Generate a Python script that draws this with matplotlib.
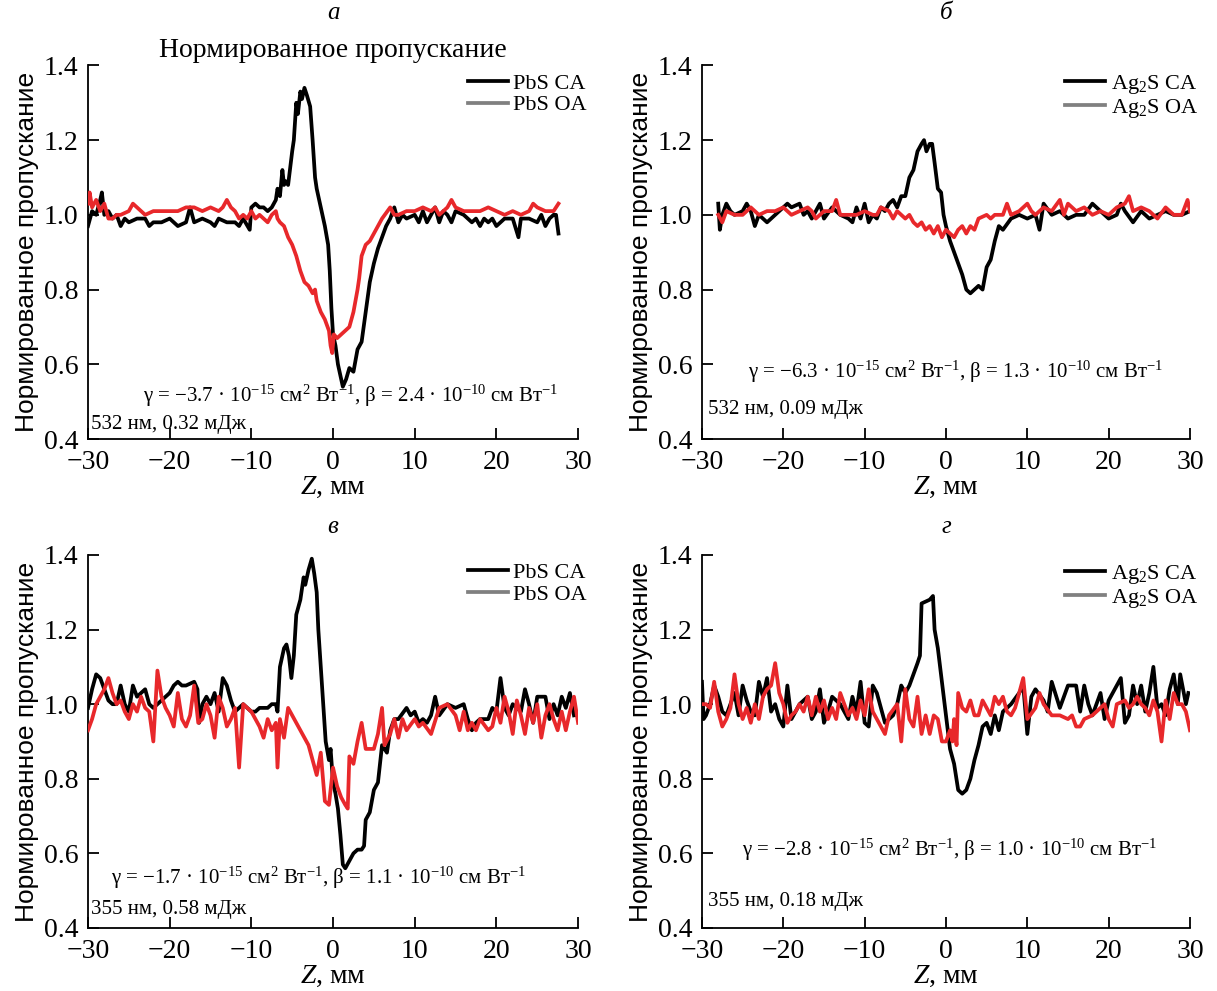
import matplotlib
matplotlib.use("Agg")
import matplotlib.pyplot as plt

plt.rcParams['font.family'] = ['Liberation Serif', 'DejaVu Serif']
plt.rcParams['mathtext.fontset'] = 'custom'
plt.rcParams['mathtext.rm'] = 'Liberation Serif'
plt.rcParams['mathtext.it'] = 'Liberation Serif:italic'
plt.rcParams['axes.unicode_minus'] = True

# --- panel a: PbS, 532 nm ---
a_ca_z = [-30, -29.5, -29, -28.5, -28.3, -28, -27.5, -27, -26.5, -26, -25.5, -25, -24, -23, -22.5, -22, -21, -20,
          -19, -18, -17.5, -17, -16, -15, -14.5, -14, -13, -12, -11.5, -11, -10.2, -10, -9.5, -9, -8.5, -8, -7.5,
          -7, -6.8, -6.5, -6.2, -6, -5.8, -5.5, -5, -4.8, -4.5, -4.3, -4, -3.8, -3.5, -3.2, -2.8, -2.5, -2.2, -2,
          -1.5, -1, -0.6, -0.4, -0.2, 0, 0.3, 0.6, 1.0, 1.2, 1.6, 2.0, 2.5, 3, 3.5, 4, 4.5, 5, 5.5, 6, 6.5, 7,
          7.5, 8, 8.5, 9, 10, 10.5, 11, 11.5, 12, 12.5, 13, 13.5, 14, 14.5, 15, 16, 17, 17.5, 18, 18.5, 19, 19.5,
          20, 21, 22, 22.7, 23, 24, 25, 25.5, 26, 26.5, 27, 27.3, 27.6]
a_ca_t = [0.97, 1.01, 1.00, 1.04, 1.06, 1.00, 1.01, 0.99, 1.00, 0.97, 0.99, 0.98, 0.99, 0.99, 0.97, 0.98, 0.98, 0.99,
          0.97, 0.98, 1.02, 0.98, 0.99, 0.98, 0.97, 0.99, 0.98, 0.98, 0.97, 0.99, 0.96, 1.02, 1.03, 1.02, 1.02, 1.01, 1.02,
          1.04, 1.07, 1.05, 1.12, 1.08, 1.09, 1.08, 1.17, 1.20, 1.30, 1.27, 1.33, 1.31, 1.34, 1.32, 1.29, 1.20, 1.10, 1.07,
          1.02, 0.97, 0.92, 0.85, 0.75, 0.68, 0.65, 0.60, 0.56, 0.54, 0.56, 0.59, 0.58, 0.64, 0.66, 0.74, 0.82, 0.87, 0.91,
          0.94, 0.97, 0.99, 1.02, 0.98, 1.00, 0.99, 1.00, 0.98, 1.01, 0.98, 1.00, 1.02, 0.98, 1.01, 1.00, 0.98, 1.01, 1.00,
          0.98, 0.99, 0.97, 0.99, 0.98, 0.99, 0.97, 0.99, 0.99, 0.94, 0.99, 0.99, 0.98, 1.00, 0.97, 0.99, 1.00, 1.00, 0.95]
a_oa_z = [-30, -29.8, -29.5, -29, -28.5, -28, -27.5, -27, -26.5, -26, -25, -24.5, -24, -23.5, -23, -22, -21, -20, -19,
          -18, -17, -16, -15, -14, -13.5, -13, -12.5, -12, -11.5, -11, -10.5, -10, -9.5, -9, -8.5, -8, -7.5, -7,
          -6.8, -6.5, -6, -5.5, -5, -4.5, -4, -3.5, -3, -2.5, -2.2, -2, -1.5, -1, -0.5, -0.3, -0.1, 0.1, 0.5, 1, 1.5,
          2, 2.5, 3, 3.2, 3.5, 4, 4.5, 5, 5.5, 6, 7, 7.5, 8, 9, 10, 11, 12, 12.5, 13, 14, 14.5, 15, 16, 17, 18, 19,
          20, 21, 22, 23, 24, 24.5, 25, 26, 27, 27.6]
a_oa_t = [1.03, 1.06, 1.02, 1.04, 1.01, 1.03, 0.99, 0.99, 1.00, 1.00, 1.01, 1.03, 1.02, 1.01, 1.00, 1.01, 1.01, 1.01,
          1.01, 1.02, 1.02, 1.01, 1.02, 1.01, 1.02, 1.04, 1.02, 1.01, 0.99, 1.00, 0.99, 1.01, 0.99, 1.00, 0.99, 0.98,
          1.00, 1.01, 0.99, 0.98, 0.97, 0.94, 0.92, 0.89, 0.85, 0.82, 0.81, 0.79, 0.80, 0.77, 0.74, 0.72, 0.69, 0.65,
          0.63, 0.68, 0.67, 0.68, 0.69, 0.70, 0.74, 0.80, 0.83, 0.89, 0.92, 0.93, 0.95, 0.97, 0.99, 1.02, 1.00, 1.00,
          1.01, 1.01, 1.02, 1.01, 1.02, 1.00, 1.02, 1.04, 1.02, 1.01, 1.01, 1.01, 1.02, 1.01, 1.00, 1.01, 1.00, 1.01,
          1.03, 1.02, 1.01, 1.01, 1.03]

# --- panel b: Ag2S, 532 nm ---
b_ca_z = [-28, -27.8, -27.5, -27, -26.5, -26, -25, -24.5, -24, -23.5, -23, -22.5, -22, -21, -20, -19.5, -19, -18,
          -17.5, -17, -16.5, -16, -15.5, -15, -14, -13.5, -13, -12, -11.5, -11, -10.5, -10, -9.5, -9, -8.5, -8,
          -7.5, -7, -6.5, -6, -5.5, -5, -4.5, -4, -3.5, -3, -2.7, -2.4, -2, -1.7, -1.4, -1, -0.6, -0.3, 0, 0.5, 1,
          1.5, 2, 2.5, 3, 3.5, 4, 4.5, 5, 5.5, 6, 6.5, 7, 8, 9, 10, 11, 11.5, 12, 13, 14, 15, 16, 17, 18, 19, 20,
          21, 21.5, 22, 23, 24, 25, 26, 27, 28, 29, 30]
b_ca_t = [1.03, 0.96, 1.00, 1.03, 1.01, 1.00, 1.01, 1.03, 1.01, 0.97, 1.00, 0.99, 0.98, 1.00, 1.02, 1.03, 1.02, 1.03,
          1.00, 1.01, 0.99, 1.01, 1.03, 0.99, 1.02, 1.01, 1.00, 0.99, 0.98, 1.02, 0.99, 1.03, 0.98, 1.00, 0.99, 1.02,
          1.01, 1.03, 1.04, 1.02, 1.05, 1.05, 1.10, 1.12, 1.17, 1.19, 1.20, 1.17, 1.19, 1.19, 1.14, 1.07, 1.06, 1.00,
          0.97, 0.93, 0.90, 0.87, 0.84, 0.80, 0.79, 0.80, 0.81, 0.80, 0.86, 0.88, 0.93, 0.97, 0.96, 0.99, 1.00, 0.99,
          1.00, 0.96, 1.03, 1.00, 1.01, 0.99, 1.00, 1.00, 1.03, 1.01, 0.99, 1.00, 1.03, 1.01, 0.98, 1.01, 0.99, 1.00,
          1.01, 1.00, 1.00, 1.01]
b_oa_z = [-28, -27.5, -27, -26, -25, -24, -23, -22, -21, -20, -19, -18, -17, -16.5, -16, -15, -14, -13.5, -13, -12,
          -11, -10, -9, -8.5, -8, -7, -6.5, -6, -5, -4.5, -4, -3.5, -3, -2.5, -2, -1.5, -1, -0.5, 0, 0.5, 1, 1.5, 2,
          2.5, 3, 3.5, 4, 5, 5.5, 6, 7, 7.5, 8, 9, 10, 10.5, 11, 12, 13, 14, 14.5, 15, 16, 17, 18, 19, 20, 21, 22,
          22.5, 23, 24, 25, 26, 27, 28, 29, 29.7, 30]
b_oa_t = [1.00, 0.98, 1.01, 1.00, 1.00, 1.02, 1.00, 1.01, 1.01, 1.02, 1.00, 1.01, 1.02, 1.01, 0.99, 1.01, 1.01, 1.04,
          1.00, 1.00, 1.00, 1.01, 1.00, 1.00, 1.02, 1.01, 0.99, 1.01, 0.99, 1.00, 0.98, 0.97, 0.98, 0.96, 0.97, 0.95,
          0.97, 0.94, 0.96, 0.95, 0.94, 0.96, 0.97, 0.95, 0.97, 0.96, 0.99, 1.00, 0.99, 1.00, 1.00, 1.03, 1.00, 1.01,
          1.03, 1.01, 1.00, 1.02, 1.01, 1.04, 1.00, 1.03, 1.01, 1.02, 1.00, 1.01, 1.00, 1.02, 1.03, 1.05, 1.01, 1.02,
          1.01, 0.99, 1.02, 1.00, 1.00, 1.04, 1.01]

# --- panel c: PbS, 355 nm ---
c_ca_z = [-30, -29.5, -29, -28.5, -28, -27.5, -27, -26.5, -26, -25.5, -25, -24.5, -24, -23.5, -23, -22.5, -22, -21.5,
          -21, -20, -19.5, -19, -18.5, -18, -17, -16.6, -16.4, -16, -15.5, -15, -14.5, -14, -13.5, -13, -12.5, -12,
          -11.5, -11, -10, -9.5, -9, -8, -7.5, -7, -6.8, -6.5, -6, -5.7, -5.4, -5.1, -4.8, -4.5, -4, -3.6, -3.4, -3,
          -2.6, -2.3, -2, -1.8, -1.5, -1.2, -0.9, -0.5, -0.3, 0, 0.3, 0.6, 0.9, 1.2, 1.5, 2, 2.5, 3, 3.5, 3.8, 4,
          4.5, 5, 5.5, 6, 6.3, 6.6, 7, 7.5, 8, 9, 9.5, 10, 10.5, 11, 11.5, 12, 12.5, 13, 14, 15, 16, 16.5, 17, 17.5,
          18, 19, 19.5, 20, 20.5, 21, 21.5, 22, 23, 23.5, 24, 24.5, 25, 26, 26.5, 27, 27.5, 28, 28.5, 29, 29.5]
c_ca_t = [0.99, 1.04, 1.08, 1.07, 1.04, 1.01, 1.00, 1.00, 1.05, 1.00, 0.98, 1.05, 1.02, 1.03, 1.04, 1.00, 0.99, 1.00,
          1.01, 1.03, 1.05, 1.06, 1.05, 1.05, 1.06, 1.04, 0.95, 1.00, 1.02, 1.00, 1.03, 0.98, 1.07, 1.05, 1.01, 0.98,
          0.99, 1.00, 0.98, 0.98, 0.99, 0.99, 1.00, 1.00, 0.98, 1.10, 1.15, 1.16, 1.13, 1.07, 1.13, 1.24, 1.28, 1.34,
          1.32, 1.36, 1.39, 1.35, 1.30, 1.20, 1.10, 1.00, 0.90, 0.85, 0.88, 0.79, 0.76, 0.72, 0.65, 0.57, 0.56, 0.58,
          0.60, 0.61, 0.61, 0.62, 0.69, 0.71, 0.77, 0.79, 0.89, 0.88, 0.87, 0.93, 0.96, 0.96, 0.99, 0.97, 0.98, 0.95,
          0.96, 0.95, 0.97, 1.02, 0.97, 1.00, 0.99, 1.00, 0.96, 0.93, 0.95, 0.96, 0.96, 0.99, 0.98, 1.07, 0.99, 0.97,
          1.00, 0.98, 1.04, 1.00, 0.95, 1.02, 1.02, 0.96, 1.00, 0.97, 1.02, 0.99, 1.03, 0.97]
c_oa_z = [-30, -29.5, -29, -28, -27.5, -27, -26.5, -26, -25.5, -25, -24.5, -24, -23.5, -23, -22.5, -22, -21.5, -21,
          -20.5, -20, -19.5, -19, -18.5, -18, -17.5, -17, -16.5, -16, -15.5, -15, -14.5, -14, -13.5, -13, -12.5,
          -12, -11.5, -11, -10.5, -10, -9.5, -9, -8.5, -8, -7.5, -7, -6.8, -6.5, -6, -5.5, -5, -4, -3, -2.5, -2,
          -1.5, -1, -0.5, 0, 0.5, 1, 1.5, 1.8, 2, 2.5, 3, 3.5, 4, 5, 5.5, 6, 6.3, 7, 7.5, 8, 8.5, 9, 10, 10.5, 11,
          12, 13, 14, 15, 15.5, 16, 16.5, 17, 17.5, 18, 19, 19.5, 20, 20.5, 21, 21.5, 22, 22.5, 23, 23.5, 24, 24.5,
          25, 25.5, 26, 26.5, 27, 27.5, 28, 28.5, 29, 29.5, 30]
c_oa_t = [0.93, 0.96, 1.00, 1.04, 1.07, 1.03, 1.00, 1.01, 0.98, 0.96, 1.00, 0.98, 1.02, 0.99, 0.98, 0.90, 1.09, 1.02,
          0.99, 0.97, 0.94, 1.03, 0.96, 0.94, 0.97, 1.05, 0.95, 0.96, 1.00, 0.97, 0.91, 1.02, 0.99, 0.94, 0.96, 0.99,
          0.83, 1.00, 0.99, 0.98, 0.96, 0.94, 0.91, 0.96, 0.93, 0.95, 0.83, 0.96, 0.91, 0.99, 0.97, 0.93, 0.89, 0.85,
          0.81, 0.87, 0.74, 0.73, 0.83, 0.78, 0.75, 0.73, 0.72, 0.86, 0.84, 0.90, 0.95, 0.88, 0.88, 0.92, 0.99, 0.89,
          0.92, 0.96, 0.91, 0.96, 0.93, 0.96, 0.94, 0.95, 0.92, 0.99, 1.00, 0.97, 0.93, 0.98, 0.93, 0.95, 0.93, 0.96,
          0.93, 0.94, 0.99, 0.95, 1.02, 0.98, 0.92, 1.01, 0.97, 0.92, 0.99, 0.95, 1.00, 0.91, 0.97, 1.00, 0.96, 0.93,
          0.98, 0.93, 0.98, 1.02, 0.95]

# --- panel d: Ag2S, 355 nm ---
d_ca_z = [-30, -29.8, -29.5, -29, -28.5, -28, -27.5, -27, -26.5, -26, -25.5, -25, -24.5, -24, -23.5, -23, -22.5, -22,
          -21.5, -21, -20.5, -20, -19.5, -19, -18.5, -18, -17, -16.5, -16, -15.5, -15, -14.5, -14, -13, -12, -11.5,
          -11, -10.5, -10, -9.5, -9, -8.5, -8, -7.5, -7, -6.5, -6, -5.5, -5, -4.5, -4, -3.5, -3.2, -3, -2, -1.6,
          -1.4, -1, -0.5, 0, 0.5, 1, 1.5, 2, 2.5, 3, 3.5, 4, 4.5, 5, 5.5, 6, 6.5, 7, 8, 9, 9.5, 10, 10.5, 11, 12,
          12.5, 13, 14, 15, 16, 16.5, 17, 17.5, 18, 19, 19.5, 20, 21, 21.5, 22, 22.5, 23, 23.5, 24, 24.5, 25, 25.5,
          26, 26.5, 27, 27.5, 28, 28.5, 28.8, 29.5, 29.8]
d_ca_t = [1.06, 0.96, 0.97, 1.00, 1.05, 1.02, 0.98, 0.97, 1.00, 1.03, 0.97, 1.05, 1.01, 0.98, 0.97, 1.06, 1.02, 1.07,
          0.98, 1.00, 0.96, 0.94, 1.05, 0.96, 0.98, 1.00, 1.02, 0.96, 0.98, 1.04, 0.95, 0.98, 1.02, 1.00, 0.96, 1.02,
          0.98, 1.06, 0.95, 0.94, 1.05, 1.03, 0.99, 0.95, 0.96, 0.97, 1.00, 1.05, 1.03, 1.05, 1.08, 1.11, 1.13, 1.27,
          1.28, 1.29, 1.20, 1.15, 1.06, 0.97, 0.88, 0.84, 0.77, 0.76, 0.77, 0.80, 0.85, 0.89, 0.94, 0.95, 0.92, 0.97,
          0.93, 0.98, 1.00, 1.03, 1.05, 0.92, 1.02, 1.04, 1.01, 0.98, 1.06, 0.99, 1.05, 1.05, 0.98, 1.05, 1.00, 0.97,
          1.03, 0.96, 1.01, 1.05, 1.07, 0.95, 0.97, 1.05, 1.00, 1.05, 0.98, 1.03, 1.10, 0.99, 1.00, 0.97, 1.04, 1.08,
          1.00, 1.08, 1.00, 1.03]
d_oa_z = [-30, -29.5, -29, -28.5, -28, -27.5, -27, -26.5, -26, -25.5, -25, -24.5, -24, -23.5, -23, -22.5, -22, -21.5,
          -21, -20.5, -20, -19.5, -19, -18.5, -18, -17.5, -17, -16.5, -16, -15.5, -15, -14.5, -14, -13.5, -13, -12.5,
          -12, -11.5, -11, -10.5, -10, -9.5, -9, -8, -7.5, -7, -6, -5.5, -5, -4.5, -4, -3.5, -3, -2.5, -2, -1.5, -1,
          -0.5, 0, 0.5, 0.8, 1, 1.3, 1.5, 2, 2.5, 3, 3.5, 4, 4.5, 5, 5.5, 6, 6.5, 7, 7.5, 8, 8.5, 9, 9.5, 10, 11,
          11.5, 12, 13, 14, 15, 15.5, 16, 16.5, 17, 18, 19, 19.5, 20, 20.5, 21, 22, 22.5, 23, 23.5, 24, 24.5, 25,
          25.5, 26, 26.5, 27, 27.5, 28, 28.5, 29, 29.5, 30]
d_oa_t = [1.00, 1.00, 0.99, 1.06, 0.98, 0.94, 0.96, 0.99, 1.08, 1.00, 0.96, 0.99, 0.95, 1.00, 0.96, 1.02, 1.04, 1.05,
          1.11, 1.03, 1.00, 0.95, 0.97, 0.98, 1.00, 0.98, 1.02, 0.97, 1.02, 0.98, 1.01, 0.96, 0.99, 0.96, 1.03, 1.00,
          0.97, 0.99, 0.96, 1.01, 0.97, 1.04, 0.98, 0.94, 0.92, 0.97, 1.00, 0.90, 1.04, 0.96, 0.94, 1.02, 0.92, 0.97,
          0.92, 0.97, 0.96, 0.90, 0.90, 0.93, 0.90, 0.96, 0.89, 1.03, 0.99, 0.98, 1.01, 0.97, 0.97, 1.01, 0.99, 0.97,
          1.02, 1.00, 1.02, 0.98, 0.97, 0.99, 1.03, 1.07, 0.96, 0.99, 1.03, 1.00, 0.97, 0.97, 0.96, 0.97, 0.94, 0.94,
          0.96, 0.97, 0.99, 1.00, 0.96, 0.94, 1.00, 1.01, 0.99, 1.00, 1.02, 1.00, 0.99, 0.97, 1.01, 0.98, 0.90, 1.01,
          0.96, 1.03, 1.00, 1.00, 0.98, 0.93]

letters = ['а', 'б', 'в', 'г']
names = ['PbS', 'Ag$_2$S', 'PbS', 'Ag$_2$S']
params = [
    'γ = −3.7 · 10$^{-15}$ см$^2$ Вт$^{-1}$, β = 2.4 · 10$^{-10}$ см Вт$^{-1}$',
    'γ = −6.3 · 10$^{-15}$ см$^2$ Вт$^{-1}$, β = 1.3 · 10$^{-10}$ см Вт$^{-1}$',
    'γ = −1.7 · 10$^{-15}$ см$^2$ Вт$^{-1}$, β = 1.1 · 10$^{-10}$ см Вт$^{-1}$',
    'γ = −2.8 · 10$^{-15}$ см$^2$ Вт$^{-1}$, β = 1.0 · 10$^{-10}$ см Вт$^{-1}$',
]
conditions = ['532 нм, 0.32 мДж', '532 нм, 0.09 мДж', '355 нм, 0.58 мДж', '355 нм, 0.18 мДж']
param_pos = [(2.1, 0.515), (1.2, 0.58), (-1.7, 0.535), (0.5, 0.61)]
cond_pos = [(-29.6, 0.44), (-29.2, 0.48), (-29.6, 0.45), (-29.2, 0.47)]

curves = [
    (a_ca_z, a_ca_t, a_oa_z, a_oa_t),
    (b_ca_z, b_ca_t, b_oa_z, b_oa_t),
    (c_ca_z, c_ca_t, c_oa_z, c_oa_t),
    (d_ca_z, d_ca_t, d_oa_z, d_oa_t),
]

fig = plt.figure(figsize=(12.17, 9.91), dpi=100)
boxes = [
    [0.0723, 0.557, 0.4027, 0.377],
    [0.5768, 0.557, 0.4010, 0.377],
    [0.0723, 0.0636, 0.4027, 0.3764],
    [0.5768, 0.0636, 0.4010, 0.3764],
]

red = '#e8282b'
for i in range(4):
    ax = fig.add_axes(boxes[i])
    ca_z, ca_t, oa_z, oa_t = curves[i]
    ax.plot(ca_z, ca_t, color='black', lw=2.7, label=names[i] + ' CA', zorder=3)
    ax.plot(oa_z, oa_t, color=red, lw=2.7, zorder=4)
    # legend shows gray for OA (as in the original figure)
    ax.plot([], [], color='#808080', lw=2.7, label=names[i] + ' OA')
    ax.set_xlim(-30, 30)
    ax.set_ylim(0.4, 1.4)
    ax.set_xticks([-30, -20, -10, 0, 10, 20, 30])
    ax.set_yticks([0.4, 0.6, 0.8, 1.0, 1.2, 1.4])
    ax.set_yticklabels(['0.4', '0.6', '0.8', '1.0', '1.2', '1.4'])
    ax.spines['top'].set_visible(False)
    ax.spines['right'].set_visible(False)
    for s in ['left', 'bottom']:
        ax.spines[s].set_linewidth(1.3)
    ax.tick_params(direction='in', length=8, width=1.3, labelsize=20)
    ax.tick_params(axis='x', pad=8)
    ax.tick_params(axis='y', pad=7)
    ax.set_xlabel('$Z$, мм', fontsize=20, labelpad=0)
    ax.set_ylabel('Нормированное пропускание', fontsize=19, family=['Liberation Sans', 'DejaVu Sans'], labelpad=3)
    ax.legend(loc='upper right', bbox_to_anchor=(1.045, 1.015), frameon=False, fontsize=16,
              handlelength=1.8, handletextpad=0.25, labelspacing=0.05, borderaxespad=0.2)
    ax.text(param_pos[i][0], param_pos[i][1], params[i], ha='center', va='center', fontsize=15)
    ax.text(cond_pos[i][0], cond_pos[i][1], conditions[i], ha='left', va='center', fontsize=15)
    ax.text(0.5, 1.14 if i < 2 else 1.075, letters[i], transform=ax.transAxes, ha='center', va='center',
            fontsize=18, style='italic')
    if i == 0:
        ax.text(0.5, 1.04, 'Нормированное пропускание', transform=ax.transAxes, ha='center', va='center',
                fontsize=20)

fig.savefig('out.png', dpi=100)
